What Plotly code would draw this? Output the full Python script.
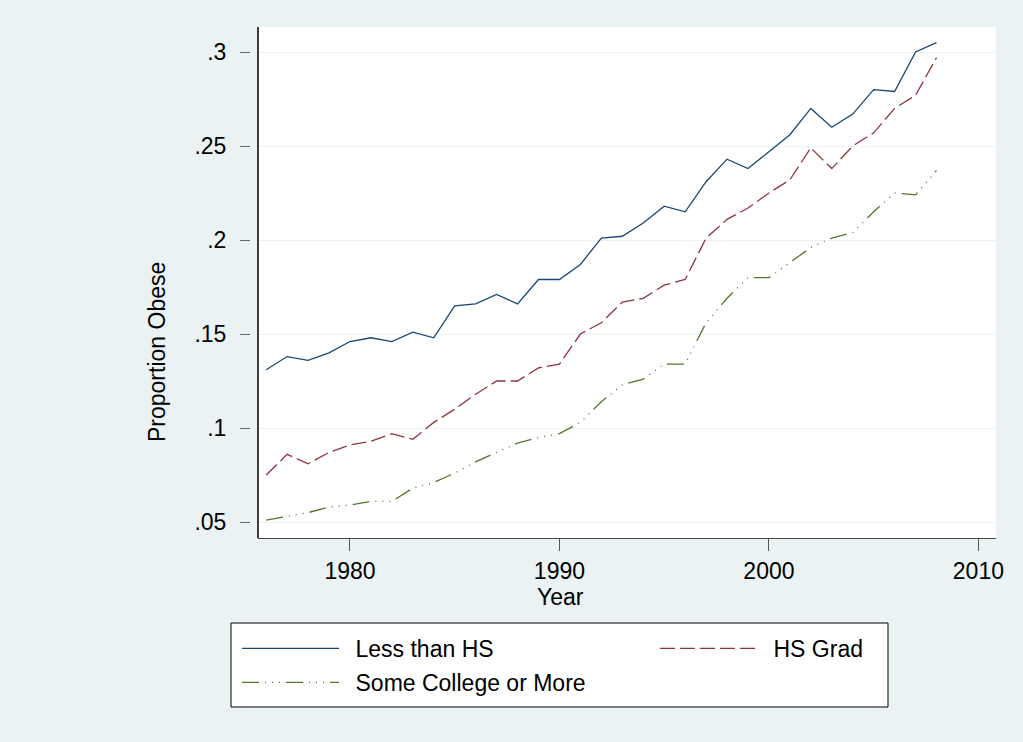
import plotly.graph_objects as go

years = list(range(1976, 2009))

less_than_hs = [0.131, 0.138, 0.136, 0.140, 0.146, 0.148, 0.146, 0.151, 0.148,
                0.165, 0.166, 0.171, 0.166, 0.179, 0.179, 0.187, 0.201, 0.202,
                0.209, 0.218, 0.215, 0.231, 0.243, 0.238, 0.247, 0.256, 0.270,
                0.260, 0.267, 0.280, 0.279, 0.300, 0.305]

hs_grad = [0.075, 0.086, 0.081, 0.087, 0.091, 0.093, 0.097, 0.094, 0.103,
           0.110, 0.118, 0.125, 0.125, 0.132, 0.134, 0.150, 0.156, 0.167,
           0.169, 0.176, 0.179, 0.201, 0.211, 0.217, 0.225, 0.232, 0.249,
           0.238, 0.250, 0.257, 0.270, 0.277, 0.297]

some_college = [0.051, 0.053, 0.055, 0.058, 0.059, 0.061, 0.061, 0.068, 0.071,
                0.076, 0.082, 0.087, 0.092, 0.095, 0.097, 0.103, 0.114, 0.123,
                0.126, 0.134, 0.134, 0.156, 0.169, 0.180, 0.180, 0.188, 0.196,
                0.201, 0.204, 0.215, 0.225, 0.224, 0.237]

x_ticks = [1980, 1990, 2000, 2010]
y_ticks = [0.05, 0.10, 0.15, 0.20, 0.25, 0.30]
y_ticktext = [".05", ".1", ".15", ".2", ".25", ".3"]

W, H = 1023, 742
ML, MR, MT, MB = 250, 27, 27, 204
pw = W - ML - MR
ph = H - MT - MB


def px(x):  # pixel -> paper x
    return (x - ML) / pw


def py(y):  # pixel -> paper y
    return (H - MB - y) / ph


font = "Liberation Sans, Arial, sans-serif"
sp = "\u2002"  # small gap between legend key and label

fig = go.Figure()
fig.add_trace(go.Scatter(x=years, y=less_than_hs, mode="lines", name=sp + "Less than HS",
                         legend="legend", legendgroup="a",
                         line=dict(color="#1A476F", width=1.3)))
fig.add_trace(go.Scatter(x=years, y=hs_grad, mode="lines", name=sp + "HS Grad",
                         legend="legend2", legendgroup="b",
                         line=dict(color="#90353B", width=1.3, dash="15px,5px")))
fig.add_trace(go.Scatter(x=years, y=some_college, mode="lines", name=sp + "Some College or More",
                         legend="legend", legendgroup="c",
                         line=dict(color="#55752F", width=1.3,
                                   dash="17px,6px,1px,6px,1px,6px,1px,6px")))

# legend box
fig.add_shape(type="rect", xref="paper", yref="paper",
              x0=px(231), x1=px(888), y0=py(707), y1=py(623),
              fillcolor="white", line=dict(color="black", width=1))
# left plot border
fig.add_shape(type="line", xref="x domain", yref="y domain", x0=0, x1=0, y0=0, y1=1,
              line=dict(color="black", width=1.5))

fig.add_annotation(text="Proportion Obese", textangle=-90, showarrow=False,
                   xref="paper", yref="paper", x=px(157), y=py(352),
                   xanchor="center", yanchor="middle",
                   font=dict(size=23, color="black", family=font))
fig.add_annotation(text="Year", showarrow=False,
                   xref="paper", yref="paper", x=px(560), y=py(597),
                   xanchor="center", yanchor="middle",
                   font=dict(size=23, color="black", family=font))

leg = dict(bgcolor="rgba(0,0,0,0)", borderwidth=0, itemwidth=97,
           font=dict(size=23, color="black", family=font),
           xanchor="left", yanchor="top", tracegroupgap=1)

fig.update_layout(
    width=W, height=H,
    margin=dict(l=ML, r=MR, t=MT, b=MB),
    paper_bgcolor="#EAF2F3",
    plot_bgcolor="white",
    font=dict(family=font, size=23, color="black"),
    xaxis=dict(domain=[8 / pw, 1], range=[1975.61, 2010.84], tickvals=x_ticks,
               ticks="outside", ticklen=12, tickcolor="#555", tickwidth=1.2,
               showline=True, linecolor="#444", linewidth=1.2,
               showgrid=False, zeroline=False, tickfont=dict(size=23)),
    yaxis=dict(anchor="free", position=0, range=[0.0415, 0.3133],
               tickvals=y_ticks, ticktext=y_ticktext,
               ticks="outside", ticklen=10, tickcolor="#666", tickwidth=1.2,
               showline=False, showgrid=True, gridcolor="#EAF2F3", gridwidth=1,
               zeroline=False, tickfont=dict(size=23), ticklabelstandoff=9),
    showlegend=True,
    legend=dict(leg, x=px(237), y=py(627)),
    legend2=dict(leg, x=px(655), y=py(627)),
)

fig.write_html("out.html", config={"displayModeBar": False},
               post_script="document.body.style.margin='0';")
